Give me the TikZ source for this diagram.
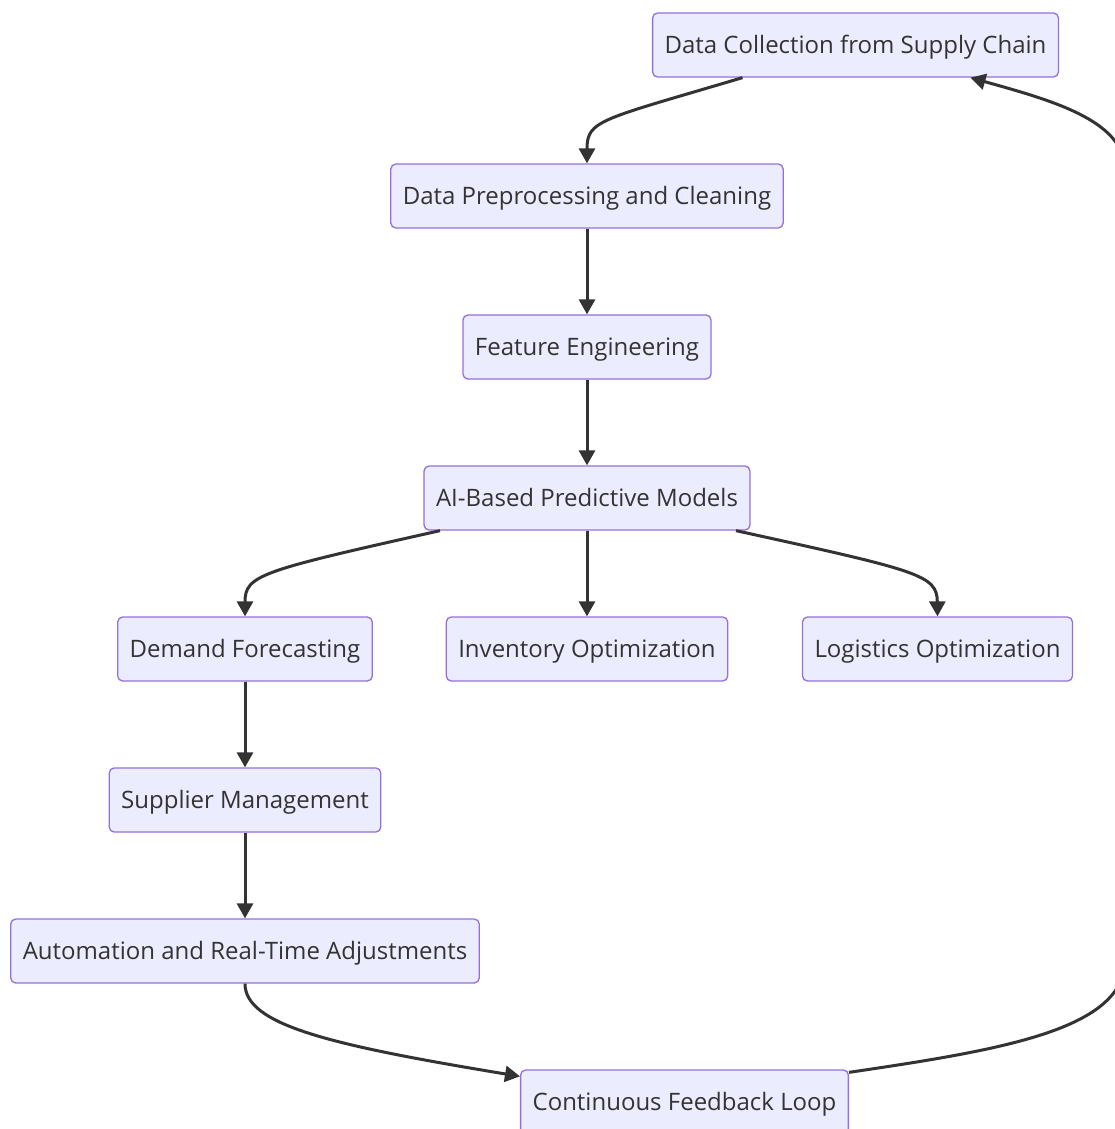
\documentclass[tikz,border=0pt]{standalone}
\usepackage{fontspec}
\setmainfont{Open Sans}
\usepackage{tikz}
\usetikzlibrary{arrows.meta}
\definecolor{boxfill}{HTML}{ECECFF}
\definecolor{boxline}{HTML}{9370DB}
\definecolor{ink}{HTML}{333333}
\tikzset{>={Triangle[length=15pt,width=16pt]}}
\tikzset{block/.style = {shape=rectangle,draw=boxline,fill=boxfill,line width=1.3pt,rounded corners=5pt,minimum height=64pt,inner xsep=12pt,text height=18pt,text depth=1pt,text=ink,font=\fontsize{24}{28}\selectfont}}
\tikzset{flow/.style = {->,draw=ink,line width=3pt}}

\begin{document}
\begin{tikzpicture}[x=1pt,y=-1pt]
            \useasboundingbox (0,0) rectangle (1115,1129);

            \node[block] (dc) at (855.5,45) {Data Collection from Supply Chain};
            \node[block] (dp) at (587,196) {Data Preprocessing and Cleaning};
            \node[block] (fe) at (587,347) {Feature Engineering};
            \node[block] (ai) at (587,498) {AI-Based Predictive Models};
            \node[block] (df) at (245,649) {Demand Forecasting};
            \node[block] (io) at (587,649) {Inventory Optimization};
            \node[block] (lo) at (937.5,649) {Logistics Optimization};
            \node[block] (sm) at (245,800) {Supplier Management};
            \node[block] (at) at (245,951) {Automation and Real-Time Adjustments};
            \node[block] (cf) at (684.5,1102) {Continuous Feedback Loop};

            \draw[flow] ([xshift=-113pt]dc.south) .. controls (600,120) and (587,120) .. (dp.north);
            \draw[flow] (dp) to (fe);
            \draw[flow] (fe) to (ai);

            \draw[flow] ([xshift=-147pt]ai.south) .. controls (260,571) and (245,575) .. (df.north);
            \draw[flow] (ai) to (io);
            \draw[flow] ([xshift=149pt]ai.south) .. controls (920,571) and (937,575) .. (lo.north);

            \draw[flow] (df) to (sm);
            \draw[flow] (sm) to (at);
            \draw[flow] (at.south) .. controls (245,1025) and (330,1045) .. ([yshift=-7pt]cf.north west);

            % loop back to the start
            \draw[flow] ([yshift=-3pt]cf.north east) .. controls (1000,1050) and (1125,1030) .. (1125,960)
                -- (1125,170) .. controls (1125,120) and (1050,100) .. ([xshift=115pt]dc.south);
\end{tikzpicture}
\end{document}
